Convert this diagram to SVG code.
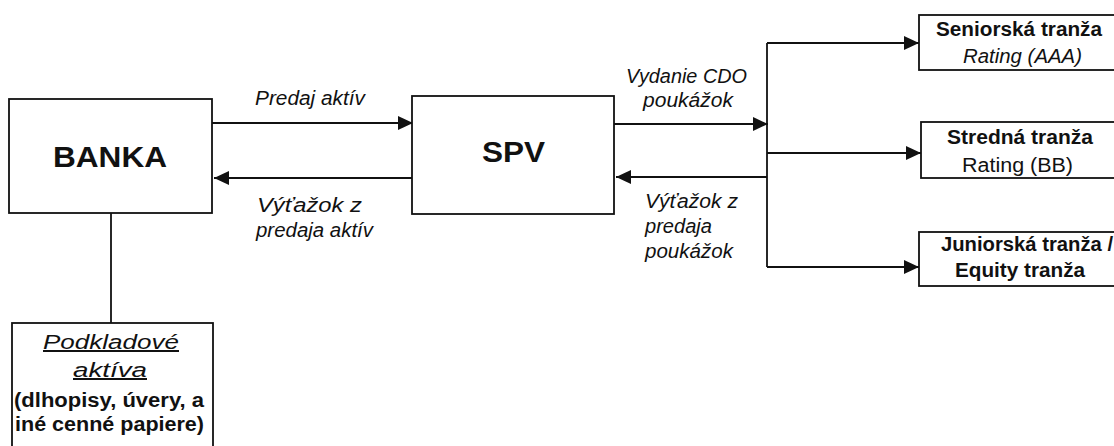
<svg xmlns="http://www.w3.org/2000/svg" width="1114" height="446" viewBox="0 0 1114 446">
<style>
.box{fill:#fff;stroke:#111;stroke-width:1.8}
.ln{fill:none;stroke:#111;stroke-width:1.8}
text{font-family:"Liberation Sans",Arial,sans-serif;fill:#111}
.big{font-size:30px;font-weight:bold}
.it{font-size:20px;font-style:italic}
.b{font-size:20px;font-weight:bold}
.n{font-size:20px}
</style>
<defs>
<marker id="ah" markerUnits="userSpaceOnUse" markerWidth="15" markerHeight="14" refX="15" refY="7" orient="auto">
<path d="M0,0 L15,7 L0,14 z" fill="#111"/>
</marker>
</defs>
<rect width="1114" height="446" fill="#fff"/>
<g id="connectors">
<path class="ln" d="M212,123 H413" marker-end="url(#ah)"/>
<path class="ln" d="M412,178 H214" marker-end="url(#ah)"/>
<path class="ln" d="M614,124 H768" marker-end="url(#ah)"/>
<path class="ln" d="M767,177 H616" marker-end="url(#ah)"/>
<path class="ln" d="M767,43 V267"/>
<path class="ln" d="M767,43 H919" marker-end="url(#ah)"/>
<path class="ln" d="M767,153 H921" marker-end="url(#ah)"/>
<path class="ln" d="M767,267 H919" marker-end="url(#ah)"/>
<path class="ln" d="M111,213 V323"/>
<text class="it" x="255" y="105" textLength="110" lengthAdjust="spacingAndGlyphs">Predaj aktív</text>
<text class="it" x="257" y="212" textLength="105" lengthAdjust="spacingAndGlyphs">Výťažok z</text>
<text class="it" x="256" y="237" textLength="117" lengthAdjust="spacingAndGlyphs">predaja aktív</text>
<text class="it" x="626" y="83" textLength="121" lengthAdjust="spacingAndGlyphs">Vydanie CDO</text>
<text class="it" x="643" y="107" textLength="90" lengthAdjust="spacingAndGlyphs">poukážok</text>
<text class="it" x="645" y="208" textLength="93" lengthAdjust="spacingAndGlyphs">Výťažok z</text>
<text class="it" x="645" y="233" textLength="67" lengthAdjust="spacingAndGlyphs">predaja</text>
<text class="it" x="645" y="258" textLength="88" lengthAdjust="spacingAndGlyphs">poukážok</text>
</g>
<g id="banka">
<rect class="box" x="9" y="99" width="203" height="114"/>
<text class="big" x="53" y="167" textLength="114" lengthAdjust="spacingAndGlyphs">BANKA</text>
</g>
<g id="spv">
<rect class="box" x="412" y="96" width="202" height="118"/>
<text class="big" x="482" y="162" textLength="63" lengthAdjust="spacingAndGlyphs">SPV</text>
</g>
<g id="senior">
<rect class="box" x="919" y="15" width="200" height="55"/>
<text class="b" x="936" y="36" textLength="166" lengthAdjust="spacingAndGlyphs">Seniorská tranža</text>
<text class="it" x="963" y="63" textLength="119" lengthAdjust="spacingAndGlyphs">Rating (AAA)</text>
</g>
<g id="stredna">
<rect class="box" x="921" y="122" width="200" height="56"/>
<text class="b" x="947" y="144" textLength="146" lengthAdjust="spacingAndGlyphs">Stredná tranža</text>
<text class="n" x="962" y="172" textLength="111" lengthAdjust="spacingAndGlyphs">Rating (BB)</text>
</g>
<g id="junior">
<rect class="box" x="919" y="232" width="200" height="54"/>
<text class="b" x="941" y="251" textLength="172" lengthAdjust="spacingAndGlyphs">Juniorská tranža /</text>
<text class="b" x="955" y="277" textLength="130" lengthAdjust="spacingAndGlyphs">Equity tranža</text>
</g>
<g id="podkladove">
<rect class="box" x="12" y="323" width="201" height="140"/>
<text class="it" x="43" y="349" textLength="136" lengthAdjust="spacingAndGlyphs" text-decoration="underline">Podkladové</text>
<text class="it" x="73" y="377" textLength="74" lengthAdjust="spacingAndGlyphs" text-decoration="underline">aktíva</text>
<text class="b" x="14" y="407" textLength="190" lengthAdjust="spacingAndGlyphs">(dlhopisy, úvery, a</text>
<text class="b" x="15" y="431" textLength="189" lengthAdjust="spacingAndGlyphs">iné cenné papiere)</text>
</g>
</svg>
